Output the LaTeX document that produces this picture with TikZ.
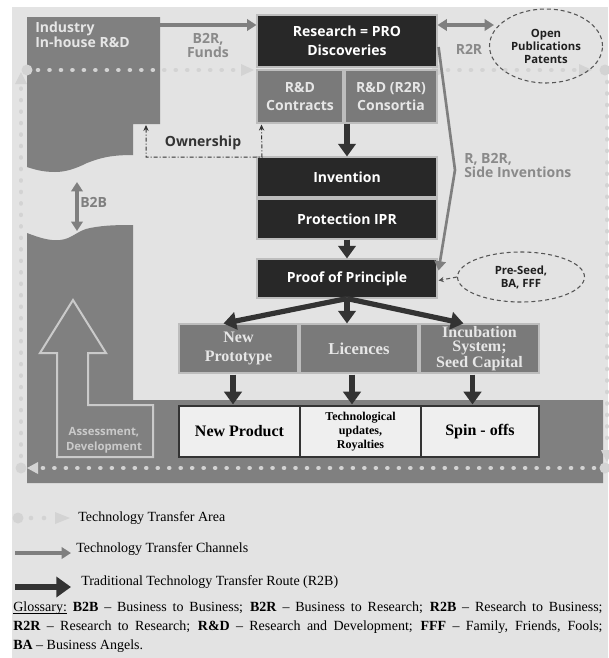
\documentclass[tikz,border=0pt]{standalone}
\usepackage{fontspec}
\setmainfont{Liberation Serif}
\setsansfont{Open Sans}
\usetikzlibrary{arrows.meta,shapes.geometric,calc}
\definecolor{bgc}{HTML}{E3E3E3}
\definecolor{areac}{HTML}{808080}
\definecolor{darkc}{HTML}{282828}
\definecolor{midc}{HTML}{7A7A7A}
\definecolor{edgec}{HTML}{BDBDBD}
\definecolor{chanc}{HTML}{7F7F7F}
\definecolor{routec}{HTML}{333333}
\definecolor{dotc}{HTML}{D3D3D3}
\definecolor{labc}{HTML}{8A8A8A}
\definecolor{pboxc}{HTML}{EFEFEF}
\definecolor{midtext}{HTML}{E6E6E6}
\definecolor{asc}{HTML}{CACACA}
\definecolor{elc}{HTML}{555555}
\newcommand\myul[1]{\leavevmode\setbox0\hbox{#1}\rlap{\rule[-1.4pt]{\wd0}{0.5pt}}\box0\relax}
\tikzset{
  darkbox/.style={draw=edgec, line width=0.8pt, fill=darkc, text=white, inner sep=0pt, align=center,
    font=\sffamily\bfseries\fontsize{10.5}{14.25}\selectfont},
  rdbox/.style={draw=edgec, line width=0.8pt, fill=midc, text=midtext, inner sep=0pt, align=center,
    font=\sffamily\bfseries\fontsize{10.5}{13.5}\selectfont},
  rowbox/.style={draw=edgec, line width=0.8pt, fill=midc, text=midtext, inner sep=0pt, align=center,
    font=\rmfamily\bfseries\fontsize{12.5}{14}\selectfont},
  prodbox/.style={draw=routec, line width=0.9pt, fill=pboxc, text=black, inner sep=0pt, align=center,
    font=\rmfamily\bfseries\fontsize{12}{14}\selectfont},
  route/.style={draw=routec, line width=3.9pt, -{Triangle[length=9.5pt,width=13pt]}},
  chan/.style={draw=chanc, line width=2.4pt, -{Triangle[length=7pt,width=8.5pt]}},
  chanboth/.style={draw=chanc, line width=2.4pt, {Triangle[length=7pt,width=8.5pt]}-{Triangle[length=7pt,width=8.5pt]}},
  ttdots/.style={draw=dotc, line width=3.45pt, line cap=round, dash pattern=on 0.01pt off 8.6pt},
  glab/.style={text=labc, font=\sffamily\bfseries\fontsize{10.5}{10.5}\selectfont, align=left, inner sep=0pt},
  dashell/.style={ellipse, draw=elc, line width=0.8pt, dash pattern=on 3pt off 2.2pt, inner sep=0pt, align=center,
    text=black!88, font=\sffamily\bfseries\fontsize{8.5}{9.75}\selectfont},
  ownline/.style={draw=routec, line width=0.75pt, dash pattern=on 3pt off 1.5pt on 0.75pt off 1.5pt,
    {Stealth[length=4.5pt,width=4pt]}-{Stealth[length=4.5pt,width=4pt]}},
  legtext/.style={anchor=west, inner sep=0pt, font=\rmfamily\fontsize{10.5}{12}\selectfont},
}
\begin{document}
\begin{tikzpicture}[x=0.75pt,y=-0.75pt]
\useasboundingbox (0,0) rectangle (608,658);
\fill[white] (0,0) rectangle (608,658);
\fill[bgc] (12,7) rectangle (608,658);
% industry areas
\fill[areac] (27,17) -- (160,17) -- (160,124) -- (133,124) -- (133,155)
  .. controls (110,155) and (100,158) .. (87,163)
  .. controls (75,169) and (65,172) .. (55,172)
  .. controls (42,172) and (33,169) .. (27,167) -- cycle;
\fill[areac] (27,233) .. controls (40,238) and (50,241) .. (60,240)
  .. controls (72,239) and (78,230) .. (90,228)
  .. controls (105,225) and (120,225) .. (133,225)
  -- (133,400) -- (603,400) -- (603,483) -- (27,483) -- cycle;
% assessment arrow
\draw[asc, line width=1.5pt, line join=miter] (57,457) -- (57,353) -- (40,353) -- (73,300) -- (106,353) -- (88,353)
  -- (88,405) -- (153,405) -- (153,457) -- cycle;
\node[text=asc, font=\sffamily\bfseries\fontsize{8.5}{11}\selectfont, align=center, inner sep=0pt] (assess) at (104,440) {Assessment,\\Development};
% technology transfer area loop
\coordinate (tl) at (27,70);
\coordinate (lb) at (21,468);
\fill[dotc] (tl) circle[radius=5.5];
\draw[ttdots] (38,70) -- (240,70);
\fill[dotc] (241,64) -- (254,70) -- (241,76) -- cycle;
\fill[dotc] (437,70) circle[radius=5.5];
\draw[ttdots] (448,70) -- (578,70);
\fill[dotc] (579,64) -- (592,70) -- (579,76) -- cycle;
\fill[dotc] (605,70) circle[radius=5.5];
\draw[ttdots] (607,82) -- (607,448);
\fill[dotc] (601,450) -- (607,462) -- (613,450) -- cycle;
\fill[dotc] (605,468) circle[radius=5.5];
\draw[ttdots] (594,468) -- (40,468);
\fill[dotc] (38,462) -- (27,468) -- (38,474) -- cycle;
\fill[dotc] (lb) circle[radius=5.5];
\draw[ttdots] (21,456) -- (21,88);
\fill[dotc] (15,84) -- (21,72) -- (27,84) -- cycle;
% industry label
\node[anchor=north west, text=midtext, font=\sffamily\bfseries\fontsize{10.5}{11.25}\selectfont, align=left, inner sep=0pt] (industry) at (35,22) {Industry\\In-house R\&D};
% boxes
\node[darkbox, minimum width=135pt, minimum height=39pt] (research) at (347,41) {Research = PRO\\Discoveries};
\node[rdbox, minimum width=64.5pt, minimum height=39.75pt] (rdc) at (300,96.5) {R\&D\\Contracts};
\node[rdbox, minimum width=69pt, minimum height=39.75pt] (rdr) at (391,96.5) {R\&D (R2R)\\Consortia};
\node[darkbox, minimum width=135pt, minimum height=30pt] (invention) at (347,177) {Invention};
\node[darkbox, minimum width=135pt, minimum height=30pt] (protection) at (347,219) {Protection IPR};
\node[darkbox, minimum width=135pt, minimum height=29.25pt] (proof) at (347,278.5) {Proof of Principle};
\node[rowbox, minimum width=89.25pt, minimum height=36.75pt, font=\rmfamily\bfseries\fontsize{12}{14.25}\selectfont] (nproto) at (238.5,348.5) {New\\Prototype};
\node[rowbox, minimum width=88.5pt, minimum height=36.75pt] (lic) at (359,348.5) {Licences};
\node[rowbox, minimum width=89.25pt, minimum height=36.75pt, font=\rmfamily\bfseries\fontsize{12}{10.5}\selectfont] (incub) at (479.5,348.5) {Incubation\\System;\\Seed Capital};
\node[prodbox, minimum width=90.75pt, minimum height=38.25pt] (nprod) at (239.5,431.5) {New Product};
\node[prodbox, minimum width=90.75pt, minimum height=38.25pt, font=\rmfamily\bfseries\fontsize{9}{10.5}\selectfont] (techup) at (360.5,431.5) {Technological\\updates,\\Royalties};
\node[prodbox, minimum width=88.5pt, minimum height=38.25pt] (spin) at (480,431.5) {Spin - offs};
% ellipses
\node[dashell, minimum width=84.75pt, minimum height=55.5pt] (open) at (546,46) {Open\\Publications\\Patents};
\node[dashell, minimum width=95.25pt, minimum height=37.5pt] (preseed) at (521,277) {Pre-Seed,\\BA, FFF};
% traditional route
\draw[route] (invention.north |- rdr.south) -- (invention.north);
\draw[route] (protection.south) -- (proof.north);
\draw[route] (proof.south) -- ($(nproto.north)+(-15,0)$);
\draw[route] (proof.south) -- (lic.north -| proof.south);
\draw[route] (proof.south) -- ($(incub.north)+(-16,0)$);
\draw[route] ($(nproto.south)+(-5.5,1)$) -- ($(nprod.north)+(-6.5,-1)$);
\draw[route] ($(lic.south)+(-7,1)$) -- ($(techup.north)+(-8.5,-1)$);
\draw[route] ($(incub.south)+(-7,1)$) -- ($(spin.north)+(-7.5,-1)$);
% channels
\coordinate (indR) at (160,25);
\coordinate (r2rE) at (494,25);
\coordinate (b2bT) at (77,182);
\coordinate (b2bB) at (77,231);
\coordinate (bend) at (455,170);
\draw[chan] (indR) -- (research.west |- indR);
\draw[chanboth] (research.east |- indR) -- (r2rE);
\draw[chan, line width=2pt] ($(research.east)+(1,6)$) -- (bend) -- ($(proof.east)+(1,-8)$);
\draw[chanboth] (b2bT) -- (b2bB);
% ownership
\coordinate (ownL) at (146,125);
\draw[ownline] (ownL) -- (146,157) -- (262,157) -- ($(rdc.south west)+(5,1)$);
\node[text=routec, font=\sffamily\bfseries\fontsize{10.5}{10.5}\selectfont, inner sep=0pt] (own) at (203,143) {Ownership};
% pre-seed connector
\draw[draw=elc, line width=0.8pt, dash pattern=on 3pt off 2.2pt, -{Stealth[length=4pt,width=4pt]}] (preseed.west) -- ($(proof.east)+(1,2)$);
% labels
\node[glab, align=center] (b2rlab) at (208,45) {B2R,\\Funds};
\node[glab] (r2rlab) at (469,49) {R2R};
\node[glab, anchor=west] (sidelab) at (464,165) {R, B2R,\\Side Inventions};
\node[glab, anchor=west, text=chanc] (b2blab) at (80,202) {B2B};
% legend
\fill[dotc] (18,518) circle[radius=5.5];
\fill[dotc] (31,518) circle[radius=2.3];
\fill[dotc] (44,518) circle[radius=2.3];
\fill[dotc] (55,512) -- (70,518) -- (55,524) -- cycle;
\node[legtext] (leg1) at (78,518) {Technology Transfer Area};
\coordinate (l2a) at (15,553);
\coordinate (l2b) at (71,553);
\draw[chan] (l2a) -- (l2b);
\node[legtext] (leg2) at (76,549) {Technology Transfer Channels};
\coordinate (l3a) at (15,587);
\coordinate (l3b) at (71,587);
\draw[route, line width=5pt, -{Triangle[length=11pt,width=15pt]}] (l3a) -- (l3b);
\node[legtext] (leg3) at (81,582) {Traditional Technology Transfer Route (R2B)};
\node[anchor=north west, inner sep=0pt, text width=442pt, align=justify, font=\rmfamily\fontsize{10.5}{14.25}\selectfont] (gloss) at (13,602)
{\myul{Glossary:} \textbf{B2B} – Business to Business; \textbf{B2R} – Business to Research; \textbf{R2B} – Research to Business;\linebreak
\textbf{R2R} – Research to Research; \textbf{R\&D} – Research and Development; \textbf{FFF} – Family, Friends, Fools;\linebreak
\textbf{BA} – Business Angels.};
\end{tikzpicture}
\end{document}
